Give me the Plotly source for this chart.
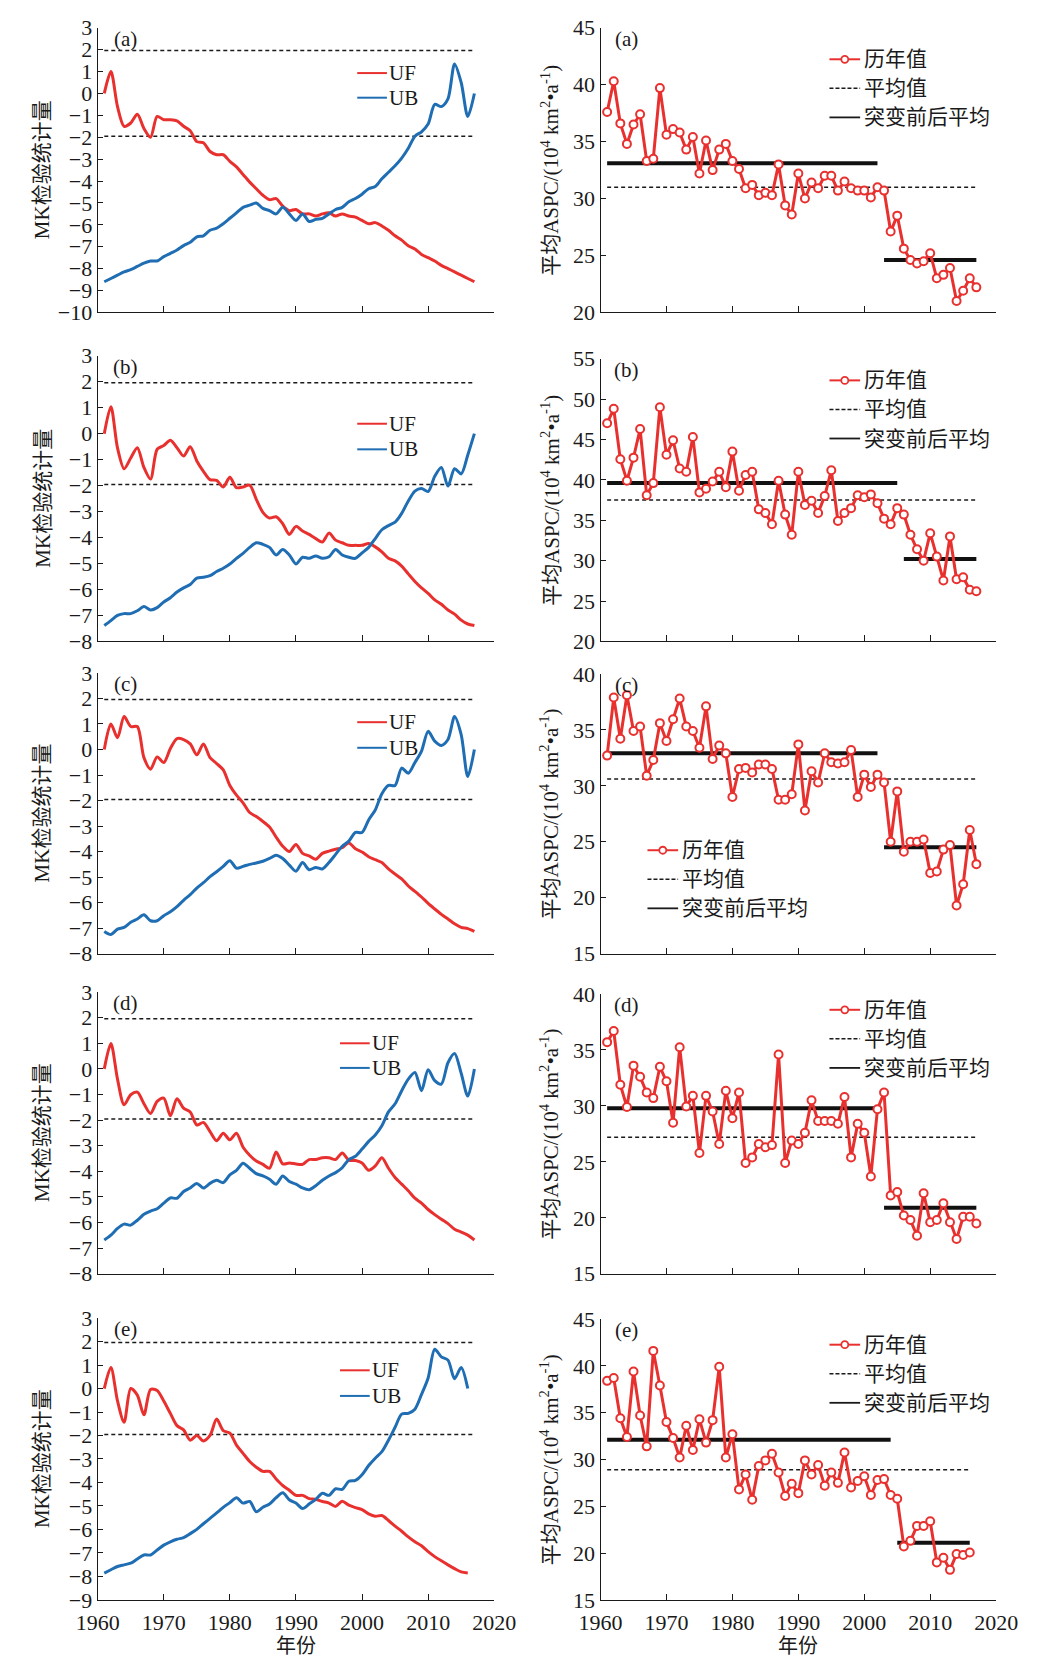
import plotly.graph_objects as go

W, H = 1044, 1666
FONT = "Liberation Serif, Noto Sans CJK SC, serif"
RED = "#e8312f"
BLUE = "#1f6db3"

# ---------------- data ----------------
years = list(range(1961, 2018))      # regions a-d
years_e = list(range(1961, 2017))    # region e

uf_a = [0.0, 1.0, -0.6, -1.5, -1.35, -0.95, -1.6, -2.0, -1.05, -1.2,
        -1.2, -1.25, -1.5, -1.7, -2.2, -2.25, -2.65, -2.8, -2.8, -3.1,
        -3.35, -3.7, -4.05, -4.35, -4.65, -4.85, -4.8, -5.15, -5.35, -5.3,
        -5.5, -5.5, -5.6, -5.5, -5.45, -5.6, -5.5, -5.6, -5.65, -5.8,
        -5.95, -5.9, -6.05, -6.25, -6.5, -6.7, -6.95, -7.1, -7.35, -7.5,
        -7.65, -7.85, -8.0, -8.15, -8.3, -8.45, -8.6]
ub_a = [-8.6, -8.45, -8.3, -8.15, -8.05, -7.9, -7.75, -7.65, -7.65, -7.45,
        -7.3, -7.15, -6.95, -6.8, -6.55, -6.5, -6.25, -6.15, -5.95, -5.7,
        -5.45, -5.2, -5.1, -5.0, -5.25, -5.35, -5.5, -5.2, -5.5, -5.8,
        -5.5, -5.85, -5.75, -5.7, -5.5, -5.3, -5.2, -4.95, -4.8, -4.6,
        -4.35, -4.25, -3.9, -3.6, -3.3, -2.95, -2.5, -1.95, -1.75, -1.4,
        -0.5, -0.6, -0.25, 1.35, 0.5, -1.05, 0.0]

uf_b = [0.0, 1.04, -0.55, -1.35, -0.94, -0.54, -1.3, -1.75, -0.6, -0.46,
        -0.25, -0.54, -0.86, -0.5, -1.05, -1.45, -1.77, -1.8, -2.05, -1.68,
        -2.08, -2.05, -1.98, -2.53, -3.03, -3.25, -3.2, -3.47, -3.88, -3.57,
        -3.75, -3.88, -4.04, -4.17, -3.83, -4.1, -4.2, -4.3, -4.3, -4.3,
        -4.23, -4.36, -4.55, -4.8, -4.9, -5.1, -5.4, -5.69, -5.94, -6.15,
        -6.4, -6.57, -6.79, -6.95, -7.18, -7.33, -7.39]
ub_b = [-7.39, -7.2, -7.0, -6.93, -6.93, -6.82, -6.66, -6.79, -6.7, -6.48,
        -6.32, -6.1, -5.94, -5.81, -5.56, -5.53, -5.47, -5.31, -5.18, -5.02,
        -4.8, -4.61, -4.38, -4.2, -4.26, -4.38, -4.67, -4.46, -4.67, -5.02,
        -4.76, -4.8, -4.71, -4.8, -4.74, -4.46, -4.67, -4.76, -4.8, -4.59,
        -4.38, -4.04, -3.7, -3.54, -3.41, -3.07, -2.59, -2.21, -2.11, -2.23,
        -1.64, -1.3, -2.02, -1.35, -1.55, -0.82, 0.0]

uf_c = [0.0, 1.0, 0.46, 1.29, 0.9, 0.9, -0.32, -0.77, -0.29, -0.51,
        0.04, 0.43, 0.39, 0.22, -0.21, 0.22, -0.32, -0.55, -0.8, -1.41,
        -1.79, -2.09, -2.47, -2.63, -2.82, -3.04, -3.43, -3.79, -4.0, -3.72,
        -4.07, -4.17, -4.3, -4.07, -3.98, -3.91, -3.85, -3.66, -3.89, -4.02,
        -4.2, -4.32, -4.43, -4.68, -4.88, -5.07, -5.35, -5.56, -5.78, -6.03,
        -6.25, -6.46, -6.64, -6.83, -6.97, -7.02, -7.13]
ub_c = [-7.13, -7.25, -7.04, -6.97, -6.77, -6.64, -6.48, -6.71, -6.71, -6.51,
        -6.36, -6.16, -5.91, -5.69, -5.43, -5.22, -4.98, -4.79, -4.58, -4.36,
        -4.65, -4.58, -4.5, -4.45, -4.38, -4.27, -4.14, -4.27, -4.53, -4.77,
        -4.43, -4.71, -4.62, -4.68, -4.43, -4.11, -3.79, -3.59, -3.25, -3.25,
        -2.76, -2.37, -1.73, -1.41, -1.41, -0.73, -0.93, -0.51, -0.06, 0.71,
        0.33, 0.16, 0.39, 1.29, 0.58, -1.06, 0.0]

uf_d = [0.0, 0.99, -0.4, -1.4, -1.01, -0.91, -1.36, -1.74, -1.27, -1.14,
        -1.83, -1.17, -1.53, -1.68, -2.19, -2.09, -2.45, -2.81, -2.51, -2.77,
        -2.51, -3.06, -3.37, -3.6, -3.73, -3.88, -3.24, -3.71, -3.67, -3.71,
        -3.73, -3.54, -3.54, -3.47, -3.47, -3.54, -3.28, -3.56, -3.58, -3.67,
        -3.96, -3.79, -3.47, -3.88, -4.24, -4.5, -4.76, -5.05, -5.24, -5.49,
        -5.69, -5.87, -6.04, -6.26, -6.37, -6.49, -6.68]
ub_d = [-6.68, -6.49, -6.23, -6.06, -6.1, -5.91, -5.68, -5.55, -5.46, -5.24,
        -5.04, -5.05, -4.79, -4.65, -4.47, -4.65, -4.47, -4.35, -4.44, -4.14,
        -3.96, -3.68, -3.88, -4.09, -4.18, -4.31, -4.5, -4.18, -4.4, -4.5,
        -4.65, -4.72, -4.56, -4.35, -4.18, -4.05, -3.86, -3.54, -3.41, -3.13,
        -2.83, -2.58, -2.22, -1.68, -1.36, -0.85, -0.4, -0.14, -0.85, -0.03,
        -0.46, -0.59, 0.24, 0.6, -0.17, -1.06, 0.0]

uf_e = [0.0, 0.9, -0.53, -1.44, 0.0, -0.28, -1.12, -0.04, -0.08, -0.53,
        -1.06, -1.58, -1.76, -2.2, -2.0, -2.23, -2.0, -1.3, -1.79, -1.9,
        -2.41, -2.76, -3.11, -3.35, -3.53, -3.53, -3.85, -4.13, -4.33, -4.55,
        -4.55, -4.69, -4.72, -4.81, -4.88, -5.02, -4.8, -4.97, -5.07, -5.16,
        -5.34, -5.44, -5.41, -5.62, -5.86, -6.08, -6.32, -6.53, -6.7, -6.95,
        -7.16, -7.34, -7.51, -7.67, -7.81, -7.86]
ub_e = [-7.86, -7.72, -7.58, -7.51, -7.44, -7.26, -7.09, -7.09, -6.88, -6.67,
        -6.53, -6.42, -6.35, -6.18, -6.0, -5.76, -5.53, -5.3, -5.06, -4.86,
        -4.65, -4.88, -4.81, -5.25, -5.06, -4.92, -4.65, -4.44, -4.74, -4.88,
        -5.11, -4.92, -4.72, -4.46, -4.55, -4.27, -4.3, -3.95, -3.91, -3.67,
        -3.28, -2.97, -2.69, -2.2, -1.65, -1.09, -1.06, -0.88, -0.25, 0.45,
        1.67, 1.35, 1.21, 0.42, 0.9, 0.0]

aspc_a = [37.6, 40.3, 36.6, 34.8, 36.5, 37.4, 33.3, 33.5, 39.7, 35.6,
          36.1, 35.8, 34.3, 35.4, 32.2, 35.1, 32.5, 34.3, 34.8, 33.3,
          32.6, 30.9, 31.2, 30.3, 30.5, 30.3, 33.0, 29.4, 28.6, 32.2,
          30.0, 31.4, 30.9, 32.0, 32.0, 30.7, 31.5, 30.9, 30.7, 30.7,
          30.1, 31.0, 30.7, 27.1, 28.5, 25.6, 24.6, 24.3, 24.5, 25.2,
          23.0, 23.3, 23.9, 21.0, 21.9, 23.0, 22.2]
aspc_b = [47.0, 48.8, 42.55, 39.9, 42.75, 46.3, 38.1, 39.6, 49.0, 43.1,
          44.9, 41.4, 41.0, 45.3, 38.45, 38.9, 39.8, 41.0, 39.1, 43.5,
          38.65, 40.6, 41.0, 36.35, 35.9, 34.5, 39.9, 35.7, 33.2, 41.0,
          36.9, 37.4, 35.9, 38.0, 41.2, 34.9, 35.9, 36.5, 38.1, 37.85,
          38.2, 37.1, 35.2, 34.5, 36.5, 35.7, 33.2, 31.4, 30.0, 33.4,
          30.5, 27.55, 33.0, 27.7, 27.95, 26.4, 26.2]
aspc_c = [32.7, 37.9, 34.2, 38.1, 34.9, 35.3, 30.9, 32.3, 35.6, 34.0,
          35.95, 37.8, 35.3, 34.9, 33.4, 37.1, 32.4, 33.6, 32.9, 29.0,
          31.5, 31.6, 31.2, 31.9, 31.9, 31.5, 28.75, 28.75, 29.25, 33.7,
          27.8, 31.3, 30.3, 32.9, 32.1, 32.0, 32.1, 33.2, 29.0, 31.0,
          29.9, 31.0, 30.3, 25.0, 29.5, 24.1, 25.0, 25.0, 25.2, 22.2,
          22.35, 24.3, 24.7, 19.3, 21.2, 26.05, 23.0]
aspc_d = [35.7, 36.7, 31.9, 29.9, 33.6, 32.6, 31.2, 30.7, 33.5, 32.2,
          28.5, 35.25, 29.95, 30.9, 25.8, 30.9, 29.5, 26.6, 31.35, 28.9,
          31.2, 24.9, 25.4, 26.6, 26.3, 26.5, 34.6, 24.9, 26.9, 26.6,
          27.6, 30.5, 28.65, 28.65, 28.65, 28.4, 30.8, 25.4, 28.4, 27.6,
          23.7, 29.7, 31.2, 22.0, 22.3, 20.2, 19.8, 18.4, 22.2, 19.6,
          19.8, 21.3, 19.6, 18.1, 20.1, 20.1, 19.5]
aspc_e = [38.4, 38.7, 34.4, 32.4, 39.4, 34.7, 31.4, 41.6, 37.9, 34.0,
          32.3, 30.2, 33.6, 31.0, 34.3, 31.8, 34.2, 39.9, 30.2, 32.7,
          26.8, 28.4, 25.7, 29.3, 29.9, 30.6, 28.6, 26.1, 27.4, 26.4,
          29.9, 28.4, 29.4, 27.2, 28.6, 27.5, 30.75, 27.0, 27.7, 28.2,
          26.2, 27.8, 27.9, 26.2, 25.8, 20.7, 21.3, 22.9, 22.9, 23.4,
          19.0, 19.5, 18.2, 19.9, 19.8, 20.05]

panel_tags = ["(a)", "(b)", "(c)", "(d)", "(e)"]
year_sets = [years, years, years, years, years_e]
uf_sets = [uf_a, uf_b, uf_c, uf_d, uf_e]
ub_sets = [ub_a, ub_b, ub_c, ub_d, ub_e]
aspc_sets = [aspc_a, aspc_b, aspc_c, aspc_d, aspc_e]

mk_ranges = [(-10, 3), (-8, 3), (-8, 3), (-8, 3), (-9, 3)]
aspc_ranges = [(20, 45), (20, 55), (15, 40), (15, 40), (15, 45)]
mean_all = [31.0, 37.5, 30.6, 27.2, 28.9]
mean_pre = [33.1, 39.6, 32.9, 29.8, 32.1]
mean_post = [24.6, 30.2, 24.5, 20.9, 21.1]
pre_end = [2002, 2005, 2002, 2002, 2004]
post_start = [2003, 2006, 2003, 2003, 2005]
CRIT = 1.96
CRIT_END = 2017

# ---------------- layout geometry (pixels) ----------------
left_x = (79, 493)
right_x = (604, 1017)
left_rows = [(16, 305), (349, 639), (671, 956), (995, 1281), (1326, 1612)]
right_rows = [(16, 305), (352, 639), (672, 956), (997, 1281), (1327, 1612)]
mk_legend = [(350, 62, 87), (350, 418, 444), (350, 721, 747), (332, 1047, 1072), (332, 1379, 1405)]
aspc_legend = [(843, 48), (843, 374), (653, 851), (843, 1013), (843, 1353)]
ASPC_LEG_STEP = 29.5
TICK_SIZE = 22
TEXT_SIZE = 21
XTITLE_Y = 1659


def px(xp):
    return xp / W


def py(yp):
    return 1 - yp / H


fig = go.Figure()
layout = dict(
    width=W, height=H,
    margin=dict(l=0, r=0, t=0, b=0),
    paper_bgcolor="white", plot_bgcolor="white",
    showlegend=False,
    font=dict(family=FONT, size=TEXT_SIZE, color="#1a1a1a"),
)
shapes = []
annotations = []

axis_common = dict(
    showgrid=False, zeroline=False, showline=True, linecolor="#1a1a1a", linewidth=1.2,
    ticks="inside", ticklen=6, tickwidth=1.2, tickcolor="#1a1a1a",
    tickfont=dict(family=FONT, size=TICK_SIZE, color="#1a1a1a"),
)

dash_style = dict(color="#1a1a1a", width=1.5, dash="4px,3px")
text_font = dict(family=FONT, size=TEXT_SIZE, color="#1a1a1a")

for r in range(5):
    yrs = year_sets[r]
    for c in range(2):
        k = 2 * r + c + 1
        xa = "x" if k == 1 else f"x{k}"
        ya = "y" if k == 1 else f"y{k}"
        xkey = "xaxis" if k == 1 else f"xaxis{k}"
        ykey = "yaxis" if k == 1 else f"yaxis{k}"
        xd = left_x if c == 0 else right_x
        yd = left_rows[r] if c == 0 else right_rows[r]
        yrange = mk_ranges[r] if c == 0 else aspc_ranges[r]
        layout[xkey] = dict(
            axis_common, domain=[px(xd[0]), px(xd[1])], anchor=ya,
            range=[1960, 2020], dtick=10, tick0=1960,
            showticklabels=(r == 4), ticklabelstandoff=3,
        )
        layout[ykey] = dict(
            axis_common, domain=[py(yd[1]), py(yd[0])], anchor=xa,
            range=list(yrange), dtick=(1 if c == 0 else 5), ticklen=5,
        )

        if c == 0:
            # significance bounds
            for lvl in (CRIT, -CRIT):
                fig.add_trace(go.Scatter(x=[yrs[0], CRIT_END], y=[lvl, lvl], mode="lines",
                                         line=dash_style, xaxis=xa, yaxis=ya, hoverinfo="skip"))
            fig.add_trace(go.Scatter(x=yrs, y=uf_sets[r], mode="lines", name="UF",
                                     line=dict(color=RED, width=3, shape="spline", smoothing=0.8),
                                     xaxis=xa, yaxis=ya))
            fig.add_trace(go.Scatter(x=yrs, y=ub_sets[r], mode="lines", name="UB",
                                     line=dict(color=BLUE, width=3, shape="spline", smoothing=0.8),
                                     xaxis=xa, yaxis=ya))
            # legend
            lx, y1, y2 = mk_legend[r]
            for yy, col, lab in ((y1, RED, "UF"), (y2, BLUE, "UB")):
                shapes.append(dict(type="line", xref="paper", yref="paper",
                                   x0=px(lx), x1=px(lx + 31), y0=py(yy), y1=py(yy),
                                   line=dict(color=col, width=2)))
                annotations.append(dict(x=px(lx + 31), y=py(yy), xref="paper", yref="paper",
                                        text=lab, showarrow=False, xanchor="left", yanchor="middle",
                                        font=text_font))
            # axis title
            annotations.append(dict(x=px(21), y=py((yd[0] + yd[1]) / 2), xref="paper", yref="paper",
                                    text="MK检验统计量", textangle=-90, showarrow=False,
                                    xanchor="center", yanchor="middle", font=text_font))
        else:
            fig.add_trace(go.Scatter(x=[yrs[0], yrs[-1]], y=[mean_all[r], mean_all[r]], mode="lines",
                                     line=dash_style, xaxis=xa, yaxis=ya, name="平均值"))
            fig.add_trace(go.Scatter(x=[yrs[0], pre_end[r]], y=[mean_pre[r], mean_pre[r]], mode="lines",
                                     line=dict(color="#111111", width=4), xaxis=xa, yaxis=ya,
                                     name="突变前后平均"))
            fig.add_trace(go.Scatter(x=[post_start[r], yrs[-1]], y=[mean_post[r], mean_post[r]],
                                     mode="lines", line=dict(color="#111111", width=4),
                                     xaxis=xa, yaxis=ya, name="突变前后平均"))
            fig.add_trace(go.Scatter(x=yrs, y=aspc_sets[r], mode="lines+markers", name="历年值",
                                     line=dict(color=RED, width=3),
                                     marker=dict(symbol="circle", size=8, color="white",
                                                 line=dict(color=RED, width=2)),
                                     xaxis=xa, yaxis=ya))
            # legend
            lx, ly = aspc_legend[r]
            rows = [("历年值", "marker"), ("平均值", "dash"), ("突变前后平均", "solid")]
            for i, (lab, kind) in enumerate(rows):
                yy = ly + i * ASPC_LEG_STEP
                if kind == "marker":
                    shapes.append(dict(type="line", xref="paper", yref="paper",
                                       x0=px(lx), x1=px(lx + 32), y0=py(yy), y1=py(yy),
                                       line=dict(color=RED, width=2)))
                    shapes.append(dict(type="circle", xref="paper", yref="paper",
                                       xsizemode="pixel", ysizemode="pixel",
                                       xanchor=px(lx + 16), yanchor=py(yy),
                                       x0=-3.5, x1=3.5, y0=-3.5, y1=3.5,
                                       fillcolor="white", line=dict(color=RED, width=1.8)))
                elif kind == "dash":
                    shapes.append(dict(type="line", xref="paper", yref="paper",
                                       x0=px(lx), x1=px(lx + 32), y0=py(yy), y1=py(yy),
                                       line=dict(color="#1a1a1a", width=1.5, dash="4px,2px")))
                else:
                    shapes.append(dict(type="line", xref="paper", yref="paper",
                                       x0=px(lx), x1=px(lx + 32), y0=py(yy), y1=py(yy),
                                       line=dict(color="#1a1a1a", width=1.8)))
                annotations.append(dict(x=px(lx + 34), y=py(yy), xref="paper", yref="paper",
                                        text=lab, showarrow=False, xanchor="left", yanchor="middle",
                                        font=text_font))
            annotations.append(dict(x=px(551), y=py((yd[0] + yd[1]) / 2), xref="paper", yref="paper",
                                    text="平均ASPC/(10<sup>4</sup> km<sup>2</sup>•a<sup>-1</sup>)",
                                    textangle=-90, showarrow=False,
                                    xanchor="center", yanchor="middle", font=text_font))

        # panel tag
        tag_x = 108 if c == 0 else 631
        annotations.append(dict(x=px(tag_x), y=py(yd[0] + 11), xref="paper", yref="paper",
                                text=panel_tags[r], showarrow=False, xanchor="center", yanchor="middle",
                                font=text_font))

# x-axis titles under the bottom row
for cx in ((left_x[0] + left_x[1]) / 2, (right_x[0] + right_x[1]) / 2):
    annotations.append(dict(x=px(cx), y=py(XTITLE_Y), xref="paper", yref="paper", text="年份",
                            showarrow=False, xanchor="center", yanchor="middle",
                            font=dict(family=FONT, size=20, color="#1a1a1a")))

layout["shapes"] = shapes
layout["annotations"] = annotations
fig.update_layout(**layout)
fig.write_html("out.html")
